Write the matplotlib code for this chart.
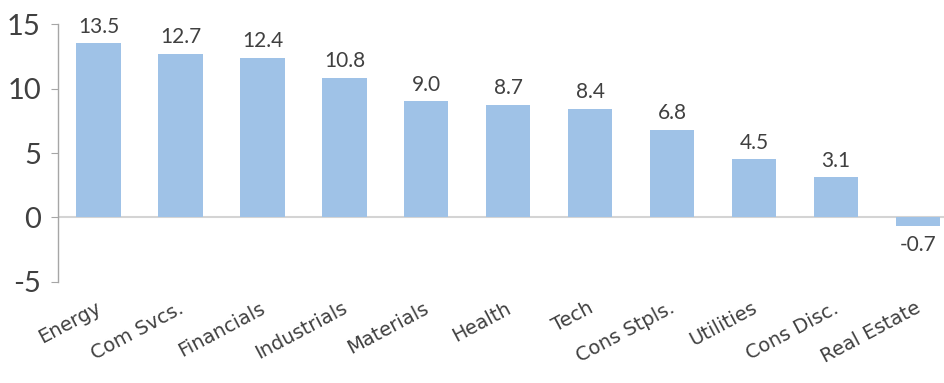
import matplotlib
matplotlib.use("Agg")
import matplotlib.pyplot as plt

sectors = ["Energy", "Com Svcs.", "Financials", "Industrials", "Materials",
           "Health", "Tech", "Cons Stpls.", "Utilities", "Cons Disc.", "Real Estate"]
values = [13.5, 12.7, 12.4, 10.8, 9.0, 8.7, 8.4, 6.8, 4.5, 3.1, -0.7]
yticks = [-5, 0, 5, 10, 15]

plt.rcParams["font.family"] = ["Lato", "DejaVu Sans"]

fig = plt.figure(figsize=(9.45, 3.83), dpi=100)
ax = fig.add_axes([0.061, 0.264, 0.939, 0.673])

x = list(range(len(sectors)))
ax.bar(x, values, width=0.54, color="#9fc2e7", zorder=2)
ax.axhline(0, color="#d4d4d4", lw=1.5, zorder=1)

for xi, v in zip(x, values):
    if v >= 0:
        ax.annotate(f"{v:.1f}", (xi, v), xytext=(0, 5), textcoords="offset points",
                    ha="center", va="bottom", fontsize=15, color="#404040")
    else:
        ax.annotate(f"{v:.1f}", (xi, v), xytext=(0, -6), textcoords="offset points",
                    ha="center", va="top", fontsize=15, color="#404040")

ax.set_xlim(-0.5, 10.33)
ax.set_ylim(-5, 15)
ax.set_yticks(yticks)
ax.set_yticklabels([str(t) for t in yticks], fontsize=21, color="#404040")
ax.tick_params(axis="y", length=5, color="#a6a6a6", pad=7)
ax.set_xticks([xi + 0.07 for xi in x])
ax.set_xticklabels(sectors, rotation=28, ha="right", va="top",
                   fontsize=14, color="#404040", family=["DejaVu Sans"])
ax.tick_params(axis="x", length=0, pad=12)

for s in ["top", "right", "bottom"]:
    ax.spines[s].set_visible(False)
ax.spines["left"].set_color("#a6a6a6")
ax.spines["left"].set_linewidth(1)

fig.savefig("out.png", dpi=100)
